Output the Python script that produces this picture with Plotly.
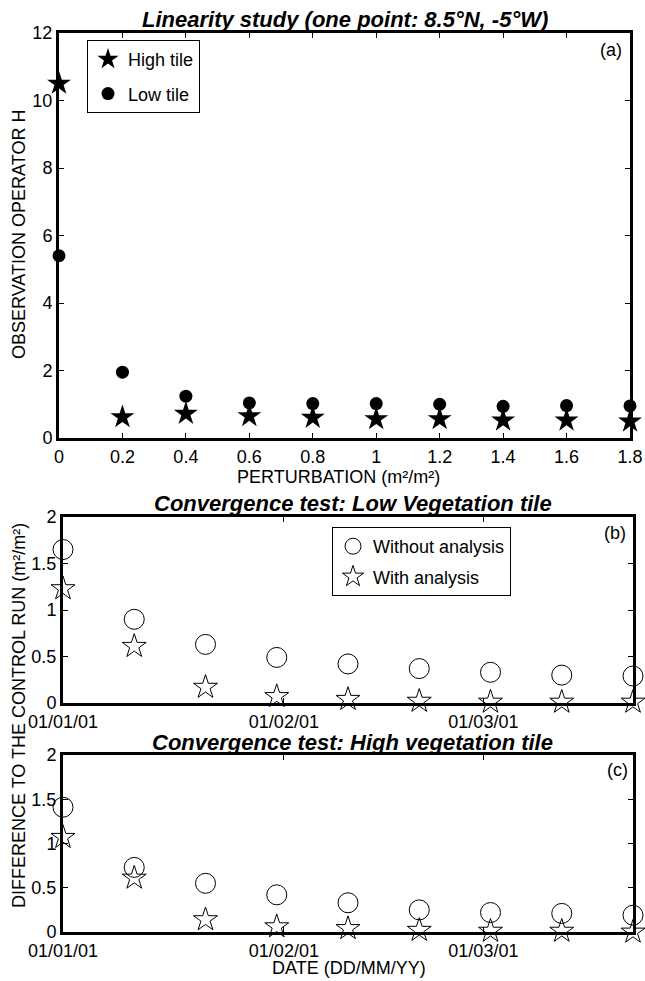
import plotly.graph_objects as go

W, H = 645, 981
FONT = "Liberation Sans"

# ---------------- data ----------------
perturbation = [0.0, 0.2, 0.4, 0.6, 0.8, 1.0, 1.2, 1.4, 1.6, 1.8]
high_tile = [10.5, 0.62, 0.72, 0.65, 0.6, 0.56, 0.56, 0.52, 0.52, 0.49]
low_tile = [5.4, 1.95, 1.24, 1.04, 1.02, 1.02, 1.0, 0.94, 0.96, 0.95]

dates = ["2001-01-01", "2001-01-11", "2001-01-21", "2001-01-31", "2001-02-10",
         "2001-02-20", "2001-03-02", "2001-03-12", "2001-03-22"]
low_without = [1.65, 0.90, 0.63, 0.49, 0.42, 0.37, 0.33, 0.30, 0.29]
low_with = [1.23, 0.61, 0.17, 0.07, 0.04, 0.02, 0.01, 0.01, 0.01]
high_without = [1.41, 0.73, 0.55, 0.42, 0.33, 0.25, 0.22, 0.21, 0.19]
high_with = [1.07, 0.61, 0.14, 0.06, 0.04, 0.02, 0.01, 0.01, 0.0]

date_tickvals = ["2001-01-01", "2001-02-01", "2001-03-01"]
date_ticktext = ["01/01/01", "01/02/01", "01/03/01"]
a_xticks = [0, 0.2, 0.4, 0.6, 0.8, 1, 1.2, 1.4, 1.6, 1.8]
a_yticks = [0, 2, 4, 6, 8, 10, 12]
bc_yticks = [0, 0.5, 1, 1.5, 2]


def px(x):
    return x / W


def py(y):
    return 1 - y / H


fig = go.Figure()

# panel (a)
fig.add_trace(go.Scatter(x=perturbation, y=high_tile, mode="markers", name="High tile",
                         marker=dict(symbol="star", size=18, color="black"),
                         xaxis="x", yaxis="y", cliponaxis=False, legend="legend",
                         legendgroup="a1"))
fig.add_trace(go.Scatter(x=perturbation, y=low_tile, mode="markers", name="Low tile",
                         marker=dict(symbol="circle", size=13, color="black"),
                         xaxis="x", yaxis="y", cliponaxis=False, legend="legend",
                         legendgroup="a2"))
# panel (b)
fig.add_trace(go.Scatter(x=dates, y=low_without, mode="markers", name="Without analysis",
                         marker=dict(symbol="circle-open", size=20, color="black",
                                     line=dict(width=1, color="black")),
                         xaxis="x2", yaxis="y2", cliponaxis=False, legend="legend2",
                         legendgroup="b1"))
fig.add_trace(go.Scatter(x=dates, y=low_with, mode="markers", name="With analysis",
                         marker=dict(symbol="star-open", size=18, color="black",
                                     line=dict(width=1, color="black")),
                         xaxis="x2", yaxis="y2", cliponaxis=False, legend="legend2",
                         legendgroup="b2"))
# panel (c)
fig.add_trace(go.Scatter(x=dates, y=high_without, mode="markers", showlegend=False,
                         marker=dict(symbol="circle-open", size=20, color="black",
                                     line=dict(width=1, color="black")),
                         xaxis="x3", yaxis="y3", cliponaxis=False))
fig.add_trace(go.Scatter(x=dates, y=high_with, mode="markers", showlegend=False,
                         marker=dict(symbol="star-open", size=18, color="black",
                                     line=dict(width=1, color="black")),
                         xaxis="x3", yaxis="y3", cliponaxis=False))

axis_common = dict(showline=True, linewidth=3, linecolor="black", mirror="ticks",
                   ticks="inside", ticklen=5, tickwidth=1, tickcolor="black",
                   showgrid=False, zeroline=False, automargin=False,
                   tickfont=dict(family=FONT, size=18, color="black"))

fig.update_layout(
    template="none",
    width=W, height=H, margin=dict(l=0, r=0, t=0, b=0, pad=0, autoexpand=False),
    paper_bgcolor="white", plot_bgcolor="white",
    font=dict(family=FONT, size=18, color="black"),
    xaxis=dict(domain=[px(59), px(630)], range=[0, 1.8], tickvals=a_xticks,
               anchor="y", **axis_common),
    yaxis=dict(domain=[py(438), py(33)], range=[0, 12], tickvals=a_yticks,
               anchor="x", **axis_common),
    xaxis2=dict(domain=[px(63), px(633)], type="date",
                range=[dates[0], dates[-1]], tickvals=date_tickvals,
                ticktext=date_ticktext, anchor="y2", **axis_common),
    yaxis2=dict(domain=[py(703), py(517)], range=[0, 2], tickvals=bc_yticks,
                anchor="x2", **axis_common),
    xaxis3=dict(domain=[px(63), px(633)], type="date",
                range=[dates[0], dates[-1]], tickvals=date_tickvals,
                ticktext=date_ticktext, anchor="y3", **axis_common),
    yaxis3=dict(domain=[py(932), py(755)], range=[0, 2], tickvals=bc_yticks,
                anchor="x3", **axis_common),
    legend=dict(x=px(87), y=py(40), xanchor="left", yanchor="top",
                bordercolor="black", borderwidth=1, bgcolor="white",
                font=dict(family=FONT, size=18, color="black"),
                traceorder="grouped", tracegroupgap=8),
    legend2=dict(x=px(332), y=py(527), xanchor="left", yanchor="top",
                 bordercolor="black", borderwidth=1, bgcolor="white",
                 font=dict(family=FONT, size=18, color="black"),
                 traceorder="grouped", tracegroupgap=4),
)

title_font = dict(family=FONT, size=22, color="black")
label_font = dict(family=FONT, size=18, color="black")
ann = [
    dict(text="<b><i>Linearity study (one point: 8.5°N, -5°W)</i></b>", x=px(345), y=py(20),
         font=title_font),
    dict(text="<b><i>Convergence test: Low Vegetation tile</i></b>", x=px(353), y=py(503),
         font=title_font),
    dict(text="<b><i>Convergence test: High vegetation tile</i></b>", x=px(353), y=py(742),
         font=title_font),
    dict(text="PERTURBATION (m²/m²)", x=px(338), y=py(477), font=label_font),
    dict(text="DATE (DD/MM/YY)", x=px(349), y=py(968), font=label_font),
    dict(text="OBSERVATION OPERATOR H", x=px(19), y=py(235), textangle=-90, font=label_font),
    dict(text="DIFFERENCE TO THE CONTROL RUN (m²/m²)", x=px(19), y=py(716), textangle=-90,
         font=label_font),
    dict(text="(a)", x=px(624), y=py(50), xanchor="right", font=label_font),
    dict(text="(b)", x=px(628), y=py(533), xanchor="right", font=label_font),
    dict(text="(c)", x=px(630), y=py(770), xanchor="right", font=label_font),
]
for a in ann:
    a.setdefault("xanchor", "center")
    a.update(xref="paper", yref="paper", yanchor="middle", showarrow=False)
    fig.add_annotation(**a)

fig.write_html("out.html")
